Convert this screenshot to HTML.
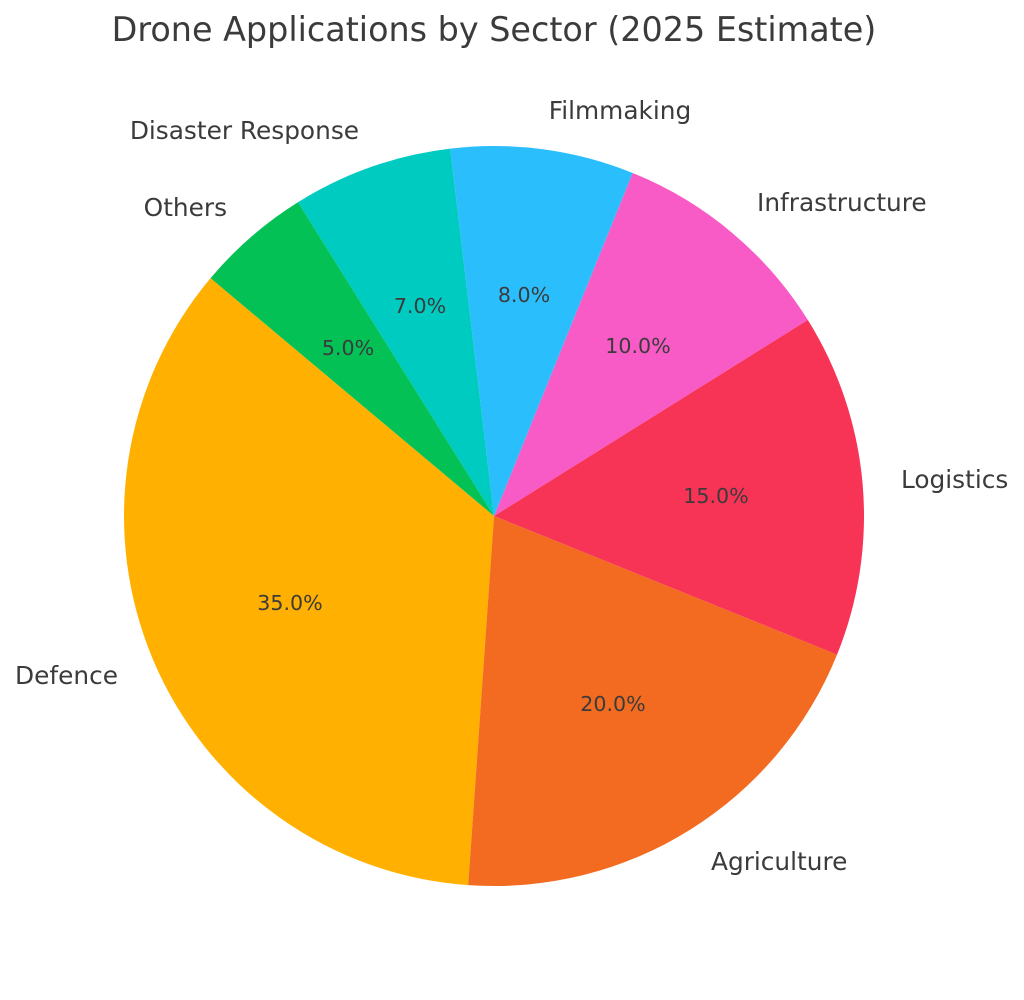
<!DOCTYPE html>
<html><head><meta charset="utf-8"><style>
body{margin:0;background:#fff;}
svg text{font-family:"DejaVu Sans","Liberation Sans",sans-serif;fill:#3b3b3b;}
</style></head><body>
<svg id="s" width="1024" height="995" viewBox="0 0 1024 995" xmlns="http://www.w3.org/2000/svg">
<g id="w"></g>
<text x="494" y="41" font-size="33.4" text-anchor="middle">Drone Applications by Sector (2025 Estimate)</text>
<g font-size="24.8">
<text x="118" y="684" text-anchor="end">Defence</text>
<text x="711" y="870">Agriculture</text>
<text x="901" y="488">Logistics</text>
<text x="757" y="211">Infrastructure</text>
<text x="620" y="119" text-anchor="middle">Filmmaking</text>
<text x="359" y="139" text-anchor="end">Disaster Response</text>
<text x="227" y="216" text-anchor="end">Others</text>
</g>
<g font-size="20.6" text-anchor="middle">
<text x="290" y="610">35.0%</text>
<text x="613" y="711">20.0%</text>
<text x="716" y="503">15.0%</text>
<text x="638" y="353">10.0%</text>
<text x="524" y="302">8.0%</text>
<text x="420" y="313">7.0%</text>
<text x="348" y="355">5.0%</text>
</g>
</svg>
<script>
var cx=494,cy=516,r=370,a=140;
var d=[[35,"#FFB000"],[20,"#F26B21"],[15,"#F73356"],[10,"#F85BC5"],[8,"#2BBEFD"],[7,"#00CBC0"],[5,"#03C155"]];
var g=document.getElementById("w"),h="";
d.forEach(function(e){var s=a*Math.PI/180,t=(a+e[0]*3.6)*Math.PI/180;
var x1=cx+r*Math.cos(s),y1=cy-r*Math.sin(s),x2=cx+r*Math.cos(t),y2=cy-r*Math.sin(t);
var l=e[0]*3.6>180?1:0;
h+='<path d="M'+cx+','+cy+' L'+x1+','+y1+' A'+r+','+r+' 0 '+l+' 0 '+x2+','+y2+' Z" fill="'+e[1]+'"/>';
a+=e[0]*3.6;});
g.innerHTML=h;
</script>
</body></html>
